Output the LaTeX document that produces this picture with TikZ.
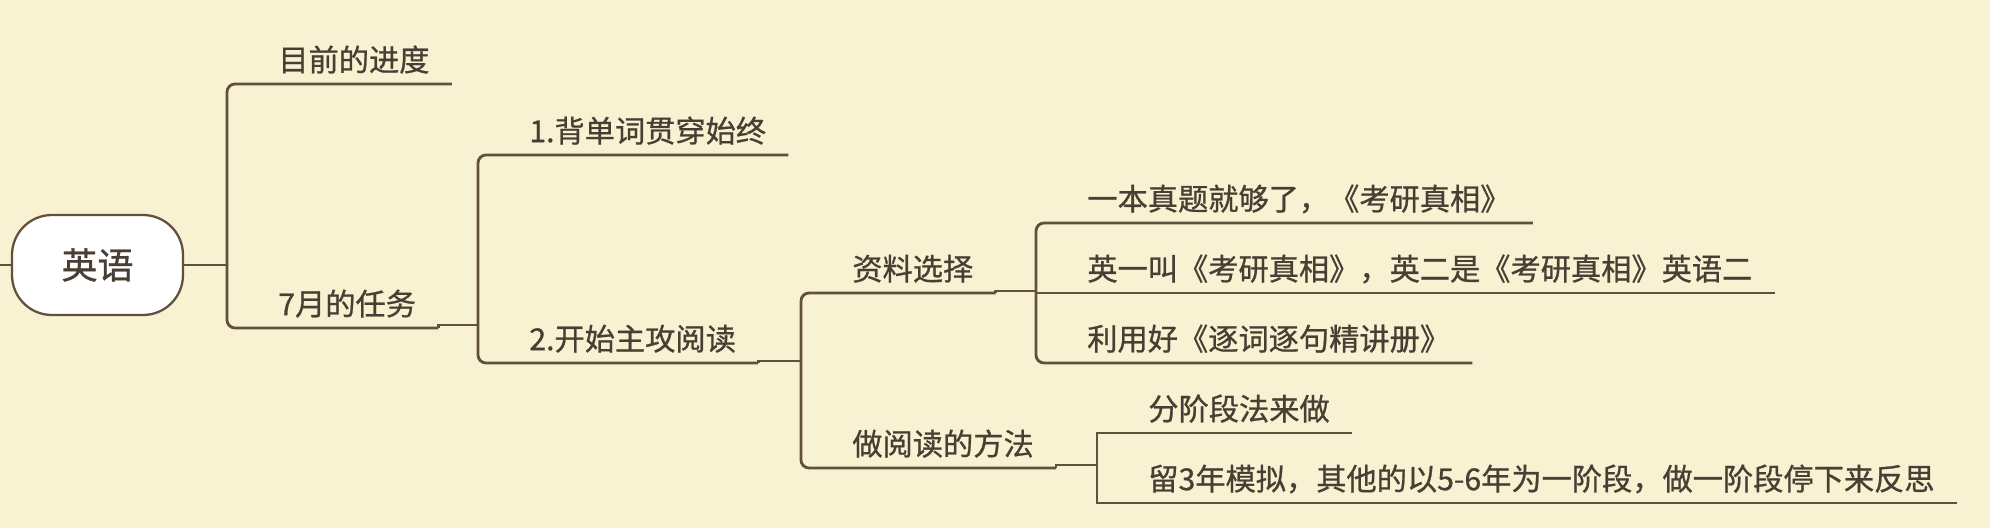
\documentclass[tikz,border=0pt]{standalone}
\usepackage{fontspec}
\setmainfont{Noto Sans CJK SC}[FakeBold=0.8]
\usepackage{xcolor}
\usepackage{tikz}
\usetikzlibrary{positioning}
\definecolor{bgcream}{RGB}{249,242,210}
\definecolor{linebrown}{RGB}{98,80,60}
\definecolor{textbrown}{RGB}{72,62,52}

\begin{document}
\begin{tikzpicture}[x=0.2mm, y=-0.2mm]
    % Define styles
    \tikzstyle{rootbox} = [rectangle, rounded corners=8mm, minimum width=34.2mm, minimum height=20mm, draw=linebrown, fill=white, line width=1.3pt, text=textbrown, font=\fontsize{20.5}{24}\selectfont]
    \tikzstyle{topic} = [anchor=south west, inner xsep=4.4mm, inner ysep=0pt, text depth=2.5mm, text=textbrown, font=\fontsize{17.2}{20}\selectfont]
    \tikzstyle{branch} = [draw=linebrown, line width=1.6pt, rounded corners=1.6mm]
    \tikzstyle{joinline} = [draw=linebrown, line width=1.6pt, sharp corners]

    % Page
    \fill[bgcream] (0,0) rectangle (1990,528);
    \useasboundingbox (0,0) rectangle (1990,528);

    % Root
    \node (root) [rootbox] at (97.5,265) {英语};
    \coordinate (stub) at (0,265);

    % Bracket positions
    \coordinate (k1) at (227,265);
    \coordinate (k2) at (478,325);
    \coordinate (k3) at (801,361);
    \coordinate (k4) at (1036,291);
    \coordinate (k5) at (1097,465);

    % First level
    \node (progress) [topic] at (256,84) {目前的进度};
    \node (july) [topic] at (256,328) {7月的任务};

    % Second level
    \node (words) [topic] at (507,155) {1.背单词贯穿始终};
    \node (reading) [topic] at (507,363) {2.开始主攻阅读};

    % Third level
    \node (material) [topic] at (830,293) {资料选择};
    \node (method) [topic] at (830,468) {做阅读的方法};

    % Leaves
    \node (book1) [topic] at (1065,223) {一本真题就够了，《考研真相》};
    \node (book2) [topic] at (1065,293) {英一叫《考研真相》，英二是《考研真相》英语二};
    \node (book3) [topic] at (1065,363) {利用好《逐词逐句精讲册》};
    \node (stage1) [topic] at (1126,433) {分阶段法来做};
    \node (stage2) [topic] at (1126,503) {留3年模拟，其他的以5-6年为一阶段，做一阶段停下来反思};

    % Root connections
    \draw [joinline] (stub) -- (root.west);
    \draw [joinline] (root.east) -- (root.east -| k1);

    % Brackets
    \draw [branch] (progress.south east) -- (progress.south -| k1) -- (july.south -| k1) -- (july.south east);
    \draw [branch] (words.south east) -- (words.south -| k2) -- (reading.south -| k2) -- (reading.south east);
    \draw [branch] (material.south east) -- (material.south -| k3) -- (method.south -| k3) -- (method.south east);
    \draw [branch] (book1.south east) -- (book1.south -| k4) -- (book3.south -| k4) -- (book3.south east);
    \draw [joinline] (book2.south -| k4) -- (book2.south east);
    \draw [joinline] (stage1.south east) -- (stage1.south -| k5) -- (stage2.south -| k5) -- (stage2.south east);

    % Steps into the brackets
    \draw [joinline] (july.south east) |- (k2);
    \draw [joinline] (reading.south east) |- (k3);
    \draw [joinline] (material.south east) |- (k4);
    \draw [joinline] (method.south east) |- (k5);
\end{tikzpicture}
\end{document}
